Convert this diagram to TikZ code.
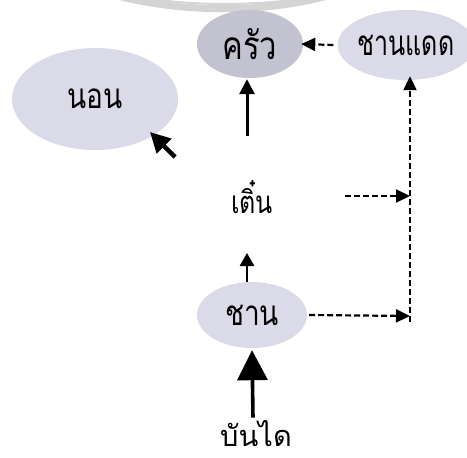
\documentclass[tikz,border=0pt]{standalone}
\usepackage{graphicx}
\usepackage{fontspec}
\newfontfamily\thaifont[Script=Thai]{Loma}
\usetikzlibrary{arrows.meta,positioning,calc,shapes.geometric}
\definecolor{Mist}{HTML}{DADAE8}
\definecolor{MistDark}{HTML}{C2C2D0}
\definecolor{Ring}{HTML}{D4D4D4}
\newcommand{\tallthai}[1]{\scalebox{1}[1.25]{#1}}

\tikzset{
  room/.style={ellipse,fill=Mist,inner sep=0pt,font=\thaifont\fontsize{28}{32}\selectfont},
  word/.style={inner sep=1pt,font=\thaifont\fontsize{28}{32}\selectfont},
  link/.style={line width=3pt,-{Triangle[length=15pt,width=15pt]}},
  hint/.style={line width=2.2pt,dash pattern=on 6pt off 3pt,-{Triangle[length=14pt,width=13pt]}},
}

\begin{document}
\begin{tikzpicture}[x=1pt,y=-1pt]
  \useasboundingbox (0,0) rectangle (467,458);
  % faint ring at the top edge
  \draw[Ring,line width=7pt] (40,-40) .. controls (120,25) and (330,25) .. (400,-40);
  \draw[Ring,line width=2pt] (80,-20) .. controls (150,12) and (300,12) .. (370,-20);

  % rooms
  \node[room,minimum width=166pt,minimum height=102pt] (non) at (95,99) {\tallthai{นอน}};
  \node[room,fill=MistDark,minimum width=106pt,minimum height=68pt,
    font=\thaifont\fontsize{31}{34}\selectfont] (khrua) at (250,44) {\tallthai{ครัว}};
  \node[room,minimum width=124pt,minimum height=70pt,
    font=\thaifont\fontsize{25}{28}\selectfont] (chandaed) at (406,45) {\scalebox{1}[1.4]{ชานแดด}};
  \node[word,font=\thaifont\fontsize{25}{28}\selectfont] (toen) at (252,197) {\tallthai{เติ๋น}};
  \node[room,minimum width=110pt,minimum height=66pt] (chan) at (252,315) {\tallthai{ชาน}};
  \node[word,font=\thaifont\fontsize{29}{32}\selectfont] (bandai) at (256,434) {บันได};

  % junction points on the dashed line
  \coordinate (t1) at (345,196);
  \coordinate (j1) at (410,196);
  \coordinate (j2) at (410,316);
  \coordinate (j3) at (410,322);
  \coordinate (n1) at (175,157);
  \coordinate (up1) at (247,136);
  \coordinate (up2) at (247,253);

  % connectors
  \draw[hint] ([xshift=-4pt]chandaed.west) -- ([xshift=-2pt]khrua.east);
  \draw[link] (up1) -- ([yshift=-1pt]khrua.south -| up1);
  \draw[line width=4.5pt,-{Triangle[length=20pt,width=20pt]}] (n1) -- (150,132);
  \draw[link,line width=2.6pt,-{Triangle[length=13pt,width=14pt]}] (chan.north -| up2) -- (up2);
  \draw[line width=3.6pt,-{Triangle[length=30pt,width=30pt]}] ([yshift=2pt]bandai.north -| 253,0) -- ([yshift=-2pt]chan.south);
  \draw[hint] (t1) -- (j1);
  \draw[hint] ([xshift=2pt]chan.east) -- (j2);
  \draw[hint,line width=2pt] (j3) -- ([yshift=4pt]chandaed.south -| j3);
\end{tikzpicture}
\end{document}
